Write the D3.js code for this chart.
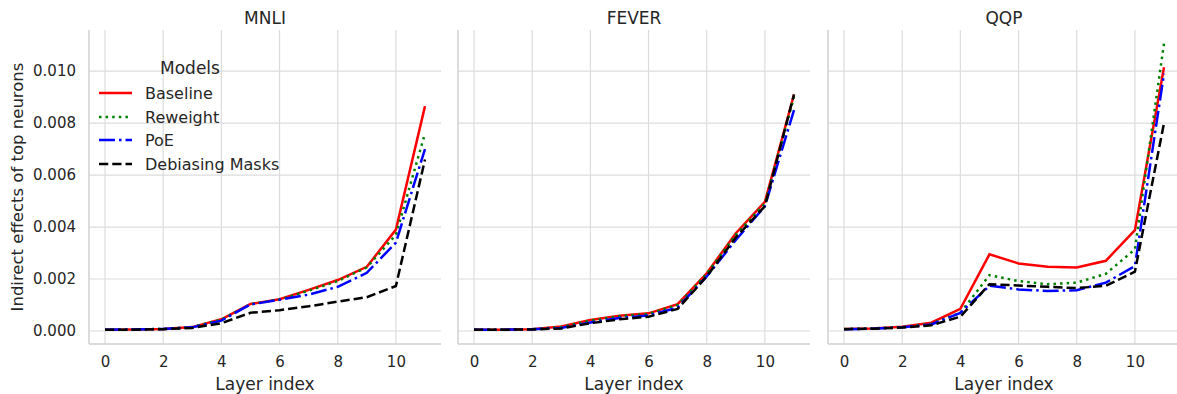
<!DOCTYPE html>
<html>
<head>
<meta charset="utf-8">
<script src="https://cdn.jsdelivr.net/npm/d3@7"></script>
<style>
  body { margin: 0; background: #fff; }
  text { font-family: "DejaVu Sans", sans-serif; fill: #262626; }
</style>
</head>
<body>
<div class="chart"></div>
<script>
// data
var layers = [0, 1, 2, 3, 4, 5, 6, 7, 8, 9, 10, 11];
var datasets = ["MNLI", "FEVER", "QQP"];
var models = ["Baseline", "Reweight", "PoE", "Debiasing Masks"];
var xTicks = [0, 2, 4, 6, 8, 10];
var yTicks = [0, 0.002, 0.004, 0.006, 0.008, 0.010];

var mnliBaseline = [0.00005, 0.00006, 0.00008, 0.00015, 0.00045, 0.00104, 0.00122, 0.00158, 0.00196, 0.00247, 0.0039, 0.00865];
var mnliReweight = [0.00005, 0.00006, 0.00008, 0.00015, 0.00044, 0.00103, 0.00121, 0.00155, 0.00192, 0.00245, 0.0037, 0.0076];
var mnliPoE = [0.00005, 0.00006, 0.00008, 0.00014, 0.0004, 0.00102, 0.0012, 0.0014, 0.0017, 0.00224, 0.0034, 0.0070];
var mnliMasks = [0.00005, 0.00005, 0.00007, 0.00012, 0.0003, 0.0007, 0.0008, 0.00095, 0.00113, 0.0013, 0.00173, 0.0066];

var feverBaseline = [0.00005, 0.00005, 0.00007, 0.00017, 0.00042, 0.00059, 0.00068, 0.00103, 0.00222, 0.00376, 0.00497, 0.0091];
var feverReweight = [0.00005, 0.00005, 0.00007, 0.00015, 0.0004, 0.00057, 0.00066, 0.001, 0.0022, 0.0037, 0.0049, 0.0090];
var feverPoE = [0.00005, 0.00005, 0.00007, 0.00012, 0.00033, 0.0005, 0.0006, 0.0009, 0.0021, 0.0035, 0.0048, 0.0085];
var feverMasks = [0.00005, 0.00005, 0.00006, 0.0001, 0.0003, 0.00045, 0.00055, 0.00085, 0.0021, 0.0036, 0.0048, 0.0091];

var qqpBaseline = [0.00008, 0.0001, 0.00016, 0.00032, 0.00085, 0.00295, 0.0026, 0.00247, 0.00244, 0.0027, 0.00388, 0.01015];
var qqpReweight = [0.00008, 0.0001, 0.00015, 0.00028, 0.0007, 0.00215, 0.00192, 0.0018, 0.00186, 0.0022, 0.00314, 0.01106];
var qqpPoE = [0.00007, 0.00009, 0.00014, 0.00025, 0.0007, 0.00174, 0.0016, 0.00154, 0.00157, 0.00186, 0.0025, 0.0099];
var qqpMasks = [0.00007, 0.00009, 0.00013, 0.00022, 0.00055, 0.0018, 0.00175, 0.0017, 0.00165, 0.00174, 0.00228, 0.0080];

var seriesByDataset = {
    MNLI: [mnliBaseline, mnliReweight, mnliPoE, mnliMasks],
    FEVER: [feverBaseline, feverReweight, feverPoE, feverMasks],
    QQP: [qqpBaseline, qqpReweight, qqpPoE, qqpMasks]
};

// line styles, matplotlib-ish (scaled by line width 2.5)
var lineWidth = 2.5;
var colors = ["#ff0000", "#008000", "#0000ff", "#000000"];
var dashes = [null, "2.5,4.1", "16,4,2.5,4", "9.25,4"];

var svgWidth = 1177;
var svgHeight = 394;

var panelLefts = [89, 458, 828];
var panelWidth = 352;
var plotTop = 30;
var plotBottom = 344;

var svg = d3.select(".chart")
    .append("svg")
    .attr("width", svgWidth)
    .attr("height", svgHeight);

var xScale = d3.scaleLinear()
    .domain([-0.55, 11.55])
    .range([0, panelWidth]);

var yScale = d3.scaleLinear()
    .domain([-0.0005, 0.01158])
    .range([plotBottom, plotTop]);

datasets.forEach(function(name, i) {
    var g = svg.append("g")
        .attr("transform", `translate(${panelLefts[i]},0)`);

    // grid
    g.selectAll("line.vgrid")
        .data(xTicks)
        .enter()
        .append("line")
        .attr("x1", d => xScale(d))
        .attr("x2", d => xScale(d))
        .attr("y1", plotTop)
        .attr("y2", plotBottom)
        .attr("stroke", "#dcdcdc")
        .attr("stroke-width", 1.2);

    g.selectAll("line.hgrid")
        .data(yTicks)
        .enter()
        .append("line")
        .attr("x1", 0)
        .attr("x2", panelWidth)
        .attr("y1", d => yScale(d))
        .attr("y2", d => yScale(d))
        .attr("stroke", "#dcdcdc")
        .attr("stroke-width", 1.2);

    // spines: left + bottom only
    g.append("line")
        .attr("x1", 0).attr("x2", 0)
        .attr("y1", plotTop).attr("y2", plotBottom)
        .attr("stroke", "#d0d0d0")
        .attr("stroke-width", 1.5);
    g.append("line")
        .attr("x1", 0).attr("x2", panelWidth)
        .attr("y1", plotBottom).attr("y2", plotBottom)
        .attr("stroke", "#d0d0d0")
        .attr("stroke-width", 1.5);

    // x tick labels
    var xAxis = d3.axisBottom(xScale).tickValues(xTicks).tickSize(0).tickPadding(12);
    var xg = g.append("g")
        .attr("transform", `translate(0,${plotBottom})`)
        .call(xAxis);
    xg.select(".domain").remove();
    xg.selectAll("text")
        .style("font-size", "15px")
        .style("font-family", "DejaVu Sans")
        .attr("fill", "#262626");

    if (i === 0) {
        var yAxis = d3.axisLeft(yScale).tickValues(yTicks).tickSize(0).tickPadding(13)
            .tickFormat(d3.format(".3f"));
        var yg = g.append("g").call(yAxis);
        yg.select(".domain").remove();
        yg.selectAll("text")
            .style("font-size", "15px")
            .style("font-family", "DejaVu Sans")
            .attr("fill", "#262626");
    }

    // title
    g.append("text")
        .attr("x", panelWidth / 2)
        .attr("y", 24)
        .attr("text-anchor", "middle")
        .style("font-size", "17px")
        .text(name);

    // x label
    g.append("text")
        .attr("x", panelWidth / 2)
        .attr("y", 390)
        .attr("text-anchor", "middle")
        .style("font-size", "17px")
        .text("Layer index");

    // lines
    var line = d3.line()
        .x((d, j) => xScale(layers[j]))
        .y(d => yScale(d));

    seriesByDataset[name].forEach(function(values, k) {
        g.append("path")
            .datum(values)
            .attr("fill", "none")
            .attr("stroke", colors[k])
            .attr("stroke-width", lineWidth)
            .attr("stroke-dasharray", dashes[k])
            .attr("d", line);
    });
});

// y label
svg.append("text")
    .attr("transform", `translate(23,${(plotTop + plotBottom) / 2}) rotate(-90)`)
    .attr("text-anchor", "middle")
    .style("font-size", "16.5px")
    .text("Indirect effects of top neurons");

// legend
var legend = svg.append("g");
legend.append("text")
    .attr("x", 190)
    .attr("y", 74)
    .attr("text-anchor", "middle")
    .style("font-size", "17px")
    .text("Models");

var legendY = [93, 117, 140, 164];
models.forEach(function(m, k) {
    legend.append("line")
        .attr("x1", 99).attr("x2", 132)
        .attr("y1", legendY[k]).attr("y2", legendY[k])
        .attr("stroke", colors[k])
        .attr("stroke-width", lineWidth)
        .attr("stroke-dasharray", dashes[k]);
    legend.append("text")
        .attr("x", 145)
        .attr("y", legendY[k] + 5.5)
        .style("font-size", "16px")
        .text(m);
});
</script>
</body>
</html>
